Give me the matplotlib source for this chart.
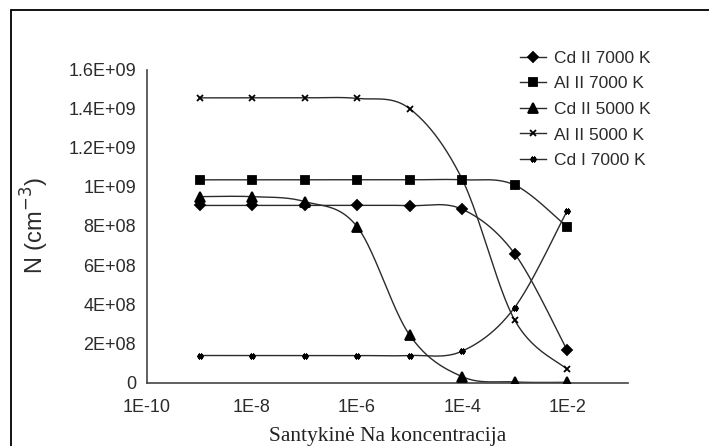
import numpy as np
import matplotlib
matplotlib.use('Agg')
import matplotlib.pyplot as plt
from matplotlib.patches import Rectangle

# relative Na concentration
conc = [1e-9, 1e-8, 1e-7, 1e-6, 1e-5, 1e-4, 1e-3, 1e-2]

cd2_7000 = [9.05e8, 9.05e8, 9.05e8, 9.05e8, 9.04e8, 8.86e8, 6.59e8, 1.66e8]
al2_7000 = [1.036e9, 1.036e9, 1.036e9, 1.036e9, 1.036e9, 1.036e9, 1.01e9, 7.95e8]
cd2_5000 = [9.5e8, 9.5e8, 9.25e8, 7.97e8, 2.43e8, 3.0e7, 3.0e6, 1.0e6]
al2_5000 = [1.455e9, 1.455e9, 1.455e9, 1.452e9, 1.40e9, 1.04e9, 3.2e8, 6.8e7]
cd1_7000 = [1.38e8, 1.38e8, 1.38e8, 1.38e8, 1.38e8, 1.6e8, 3.83e8, 8.77e8]

labels = ['Cd II 7000 K', 'Al II 7000 K', 'Cd II 5000 K', 'Al II 5000 K', 'Cd I 7000 K']
xtick_vals = [1e-10, 1e-8, 1e-6, 1e-4, 1e-2]
xtick_labels = ['1E-10', '1E-8', '1E-6', '1E-4', '1E-2']
ytick_vals = [0, 2e8, 4e8, 6e8, 8e8, 1e9, 1.2e9, 1.4e9, 1.6e9]
ytick_labels = ['0', '2E+08', '4E+08', '6E+08', '8E+08', '1E+09', '1.2E+09', '1.4E+09', '1.6E+09']

XMIN_LOG, XMAX_LOG = -10, -0.84
YMAX = 1.6e9
AX_W, AX_H = 481.0, 313.0   # axes size in pixels, smoothing is done in screen space


def smooth(xs, ys, n=40):
    # bezier smoothing like spreadsheet "smoothed line" charts
    px = (np.log10(xs) - XMIN_LOG) / (XMAX_LOG - XMIN_LOG) * AX_W
    py = np.asarray(ys) / YMAX * AX_H
    P = np.column_stack([px, py])
    Pe = np.vstack([P[0], P, P[-1]])
    out = []
    t = np.linspace(0, 1, n)[:, None]
    for i in range(len(P) - 1):
        p0 = P[i]
        p3 = P[i + 1]
        c1 = p0 + (Pe[i + 2] - Pe[i]) / 6.0
        c2 = p3 - (Pe[i + 3] - Pe[i + 1]) / 6.0
        seg = ((1 - t) ** 3) * p0 + 3 * ((1 - t) ** 2) * t * c1 + 3 * (1 - t) * t ** 2 * c2 + t ** 3 * p3
        out.append(seg if i == 0 else seg[1:])
    out = np.vstack(out)
    sx = 10 ** (out[:, 0] / AX_W * (XMAX_LOG - XMIN_LOG) + XMIN_LOG)
    sy = out[:, 1] / AX_H * YMAX
    return sx, sy


plt.rcParams['font.family'] = ['Liberation Sans', 'DejaVu Sans']

fig = plt.figure(figsize=(7.09, 4.46), dpi=100)
fig.patches.append(Rectangle((11 / 709, -0.1), 1.1, (446 - 10) / 446 + 0.1,
                             transform=fig.transFigure, fill=False,
                             edgecolor='black', linewidth=1.3))
ax = fig.add_axes([147 / 709, (446 - 382.5) / 446, 481 / 709, 313 / 446])

series = [cd2_7000, al2_7000, cd2_5000, al2_5000, cd1_7000]
markers = ['D', 's', '^', 'x', (6, 2, 90)]
msizes = [5, 5.5, 6.5, 5, 4.5]
line_col = '#2b2b2b'

for vals, lab, mk, ms in zip(series, labels, markers, msizes):
    sx, sy = smooth(conc, vals)
    ax.plot(sx, sy, color=line_col, lw=1.0, zorder=2)
    ax.plot(conc, vals, linestyle='none', marker=mk, ms=ms, color='black',
            mec='black', mew=1.3, zorder=3)
    # legend handle
    ax.plot([], [], color=line_col, lw=1.0, marker=mk, ms=ms, mec='black',
            mfc='black', mew=1.3, label=lab)

ax.set_xscale('log')
ax.set_xlim(10 ** XMIN_LOG, 10 ** XMAX_LOG)
ax.set_ylim(0, YMAX)
ax.set_xticks(xtick_vals)
ax.set_xticklabels(xtick_labels)
ax.xaxis.set_minor_locator(matplotlib.ticker.NullLocator())
ax.set_yticks(ytick_vals)
ax.set_yticklabels(ytick_labels)
ax.tick_params(length=0, labelsize=13, colors='#2b2b2b', pad=8)
ax.tick_params(axis='x', pad=12)

for s in ['top', 'right']:
    ax.spines[s].set_visible(False)
for s in ['left', 'bottom']:
    ax.spines[s].set_color('#444444')
    ax.spines[s].set_linewidth(1.2)

ax.set_ylabel('N (cm$^{-3}$)', fontsize=17, color='#2b2b2b', labelpad=12)
ax.set_xlabel('Santykinė Na koncentracija', fontsize=15.5, family='Liberation Serif',
              color='#222222', labelpad=8)

leg = ax.legend(loc='upper left', bbox_to_anchor=(511 / 709, 1 - 42 / 446),
                bbox_transform=fig.transFigure, frameon=False, fontsize=12.5,
                handlelength=1.5, handletextpad=0.45, labelspacing=0.6,
                borderpad=0)
for t in leg.get_texts():
    t.set_color('#2b2b2b')

fig.savefig('out.png', dpi=100, facecolor='white')
